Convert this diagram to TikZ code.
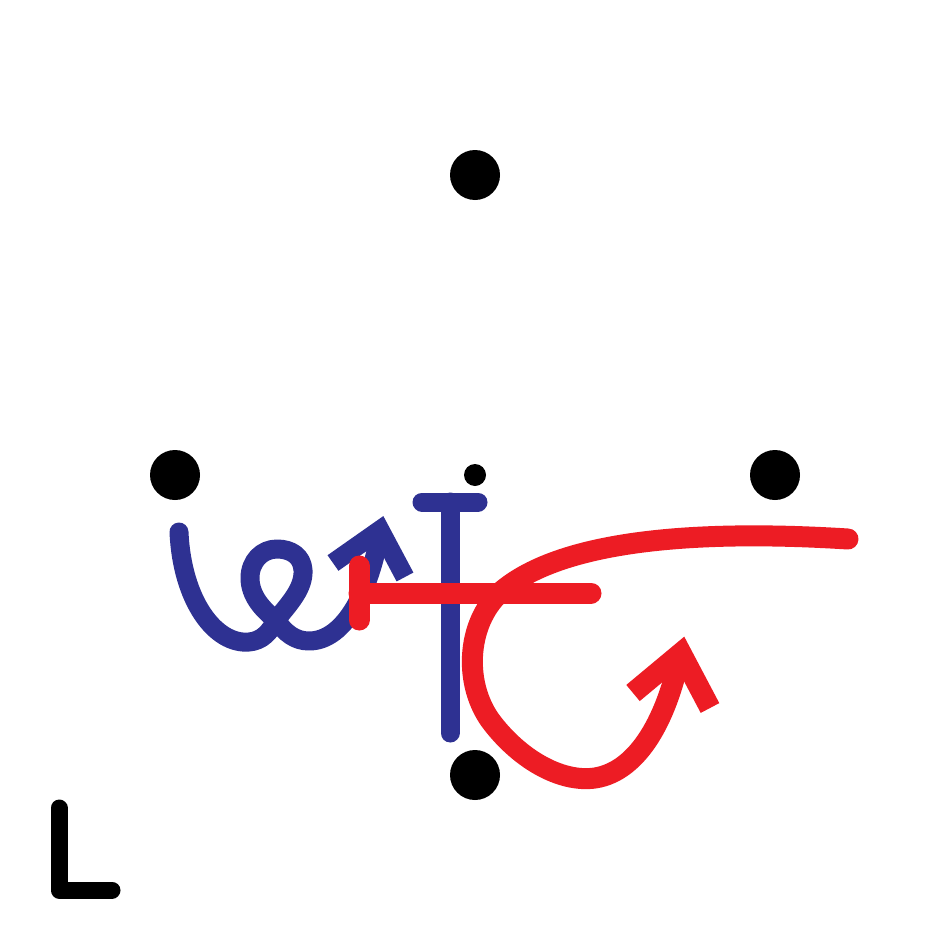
\documentclass[tikz,border=0pt]{standalone}
\definecolor{penblue}{HTML}{2E3192}
\definecolor{penred}{HTML}{ED1C24}
\tikzset{
  dot/.style={circle,fill=black,inner sep=0pt,minimum size=50pt},
  smalldot/.style={circle,fill=black,inner sep=0pt,minimum size=22pt},
  bluepen/.style={draw=penblue,line width=19pt,line cap=round,line join=round},
  redpen/.style={draw=penred,line width=21pt,line cap=round,line join=round},
  bluehead/.style={draw=penblue,line width=19pt,line cap=butt,line join=miter},
  redhead/.style={draw=penred,line width=21pt,line cap=butt,line join=miter},
  blackpen/.style={draw=black,line width=17pt,line cap=round,line join=round}
}
\begin{document}
\begin{tikzpicture}[x=1pt,y=-1pt]
\fill[white] (0,0) rectangle (950,950);
\useasboundingbox (0,0) rectangle (950,950);
% dots
\node[dot] (top) at (475,175) {};
\node[dot] (left) at (175,475) {};
\node[dot] (right) at (775,475) {};
\node[dot] (bottom) at (475,775) {};
\node[smalldot] (center) at (475,475) {};
% blue T
\draw[bluepen] (422,502) -- (478,502);
\draw[bluepen] (450,502) -- (450,733);
% blue curl
\draw[bluepen] (179,532) .. controls (182,600) and (215,645) .. (249,642)
  .. controls (262,641) and (270,632) .. (276,620)
  .. controls (290,603) and (304,588) .. (303,570)
  .. controls (302,556) and (291,549) .. (277,549)
  .. controls (262,549) and (250,561) .. (250,578)
  .. controls (250,596) and (263,610) .. (276,620)
  .. controls (285,633) and (295,641) .. (309,641)
  .. controls (345,641) and (370,590) .. (380,532);
\draw[bluehead] (333,563) -- (380,530) -- (405,577);
% red T
\draw[redpen] (359,566) -- (359,620);
\draw[redpen] (359,593) -- (591,593);
% red curve
\draw[redpen] (848,539) .. controls (720,531) and (570,535) .. (503,590)
  .. controls (468,619) and (462,680) .. (490,720)
  .. controls (518,758) and (560,783) .. (595,778)
  .. controls (640,771) and (667,715) .. (679,659);
\draw[redhead] (633,693) -- (681,653) -- (710,708);
% L
\draw[blackpen] (59,808) -- (59,890) -- (112,890);
\end{tikzpicture}
\end{document}
